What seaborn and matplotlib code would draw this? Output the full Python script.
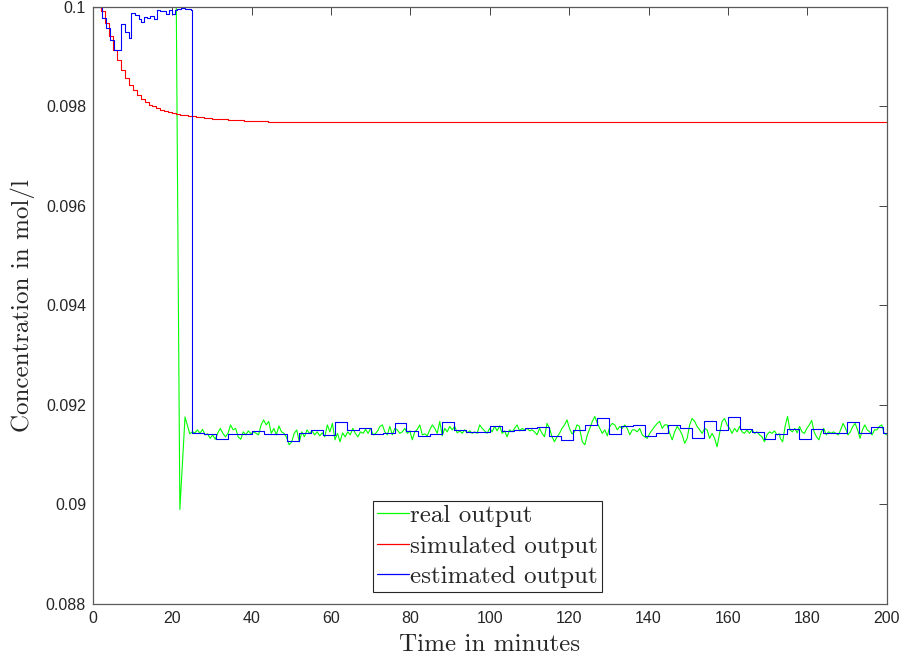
import numpy as np
import matplotlib
matplotlib.use("Agg")
import matplotlib.pyplot as plt
import seaborn as sns

# real output (green): transient, then noisy steady state read in four stretches
real_start_t = [0, 21.0, 21.9, 23.2]
real_start_v = [0.1, 0.1, 0.0899, 0.09176]
real_seg_spans = [(24.4, 71.9), (72.3, 122.6), (122.7, 173.0), (173.2, 200.0)]
real_seg_a = [0.09142, 0.09146, 0.09144, 0.09150, 0.09143, 0.09151, 0.09140, 0.09142, 0.09133, 0.09140,
              0.09131, 0.09144, 0.09153, 0.09143, 0.09136, 0.09143, 0.09160, 0.09150, 0.09153, 0.09136,
              0.09131, 0.09146, 0.09140, 0.09148, 0.09142, 0.09146, 0.09143, 0.09140, 0.09160, 0.09170,
              0.09160, 0.09167, 0.09143, 0.09153, 0.09140, 0.09158, 0.09146, 0.09143, 0.09135, 0.09120,
              0.09126, 0.09143, 0.09150, 0.09126, 0.09146, 0.09136, 0.09150, 0.09143, 0.09148, 0.09140,
              0.09146, 0.09138, 0.09144, 0.09136, 0.09160, 0.09146, 0.09163, 0.09130, 0.09143, 0.09126,
              0.09144, 0.09136, 0.09146, 0.09140, 0.09153, 0.09143, 0.09136, 0.09146, 0.09143, 0.09151,
              0.09143, 0.09153, 0.09140, 0.09143, 0.09150]
real_seg_b = [0.09157, 0.09160, 0.09146, 0.09140, 0.09157, 0.09140, 0.09153, 0.09150, 0.09143, 0.09146,
              0.09153, 0.09143, 0.09148, 0.09130, 0.09146, 0.09151, 0.09160, 0.09140, 0.09142, 0.09138,
              0.09150, 0.09160, 0.09153, 0.09143, 0.09167, 0.09138, 0.09153, 0.09146, 0.09157, 0.09150,
              0.09157, 0.09144, 0.09148, 0.09143, 0.09150, 0.09144, 0.09148, 0.09143, 0.09146, 0.09143,
              0.09160, 0.09153, 0.09148, 0.09143, 0.09153, 0.09146, 0.09157, 0.09148, 0.09158, 0.09143,
              0.09148, 0.09136, 0.09150, 0.09146, 0.09153, 0.09160, 0.09148, 0.09153, 0.09150, 0.09153,
              0.09148, 0.09150, 0.09146, 0.09140, 0.09153, 0.09143, 0.09136, 0.09163, 0.09153, 0.09136,
              0.09126, 0.09136, 0.09143, 0.09153, 0.09160, 0.09170, 0.09153, 0.09142, 0.09146, 0.09160,
              0.09157]
real_seg_c = [0.09150, 0.09126, 0.09120, 0.09140, 0.09153, 0.09167, 0.09177, 0.09163, 0.09153, 0.09143,
              0.09150, 0.09138, 0.09157, 0.09163, 0.09160, 0.09150, 0.09157, 0.09153, 0.09160, 0.09153,
              0.09140, 0.09150, 0.09150, 0.09146, 0.09153, 0.09140, 0.09136, 0.09133, 0.09143, 0.09150,
              0.09157, 0.09163, 0.09167, 0.09153, 0.09160, 0.09160, 0.09143, 0.09130, 0.09146, 0.09157,
              0.09150, 0.09140, 0.09123, 0.09133, 0.09160, 0.09173, 0.09167, 0.09157, 0.09150, 0.09143,
              0.09153, 0.09150, 0.09133, 0.09143, 0.09133, 0.09116, 0.09143, 0.09167, 0.09173, 0.09160,
              0.09153, 0.09143, 0.09153, 0.09146, 0.09157, 0.09146, 0.09143, 0.09150, 0.09143, 0.09150,
              0.09143, 0.09146, 0.09140, 0.09136, 0.09126, 0.09140, 0.09146, 0.09143, 0.09148, 0.09140,
              0.09142]
real_seg_d = [0.09133, 0.09126, 0.09157, 0.09177, 0.09150, 0.09146, 0.09153, 0.09144, 0.09157, 0.09146,
              0.09143, 0.09153, 0.09160, 0.09169, 0.09146, 0.09136, 0.09130, 0.09146, 0.09153, 0.09140,
              0.09146, 0.09143, 0.09146, 0.09143, 0.09140, 0.09150, 0.09163, 0.09153, 0.09140, 0.09146,
              0.09157, 0.09163, 0.09150, 0.09133, 0.09150, 0.09160, 0.09150, 0.09146, 0.09140, 0.09150,
              0.09150, 0.09157, 0.09160, 0.09143, 0.09140]

# simulated output (red), staircase
sim_t = [0, 1, 2, 3, 4, 5, 6, 7, 8, 9, 10, 11, 12, 13, 14, 15, 16, 17, 18, 19, 20,
         21, 22, 23, 24, 25, 26, 27, 28, 29, 30, 32, 34, 36, 38, 41, 44, 48, 200]
sim_v = [0.1, 0.1, 0.09992, 0.09968, 0.09942, 0.09914, 0.09893, 0.09874, 0.09858, 0.09844,
         0.09833, 0.09824, 0.09816, 0.09809, 0.09804, 0.09800, 0.09796, 0.09793, 0.09790, 0.09788,
         0.09786, 0.09784, 0.09783, 0.09782, 0.09781, 0.09780, 0.09779, 0.09778, 0.09777, 0.09776,
         0.09775, 0.09774, 0.09773, 0.09772, 0.09771, 0.09770, 0.09769, 0.09768, 0.09768]

# estimated output (blue), staircase
est_early_t = [0, 2.2, 3.2, 4.2, 5.3, 7.1, 8.2, 9.2, 9.6, 10.7, 11.6, 12.2, 12.8, 13.7, 14.5,
               15.4, 16.2, 17.0, 18.3, 19.1, 20.0, 20.6, 21.2, 22.1, 23.3, 24.6]
est_early_v = [0.1, 0.09977, 0.09957, 0.09934, 0.09914, 0.09966, 0.09949, 0.09937, 0.09987, 0.09984,
               0.09975, 0.09970, 0.09980, 0.09977, 0.09982, 0.09975, 0.09994, 0.09991, 0.09986, 0.09993,
               0.09986, 0.09994, 0.09996, 0.09998, 0.09996, 0.09994]
est_steady_v = [0.09144, 0.09141, 0.09131, 0.09142, 0.09142, 0.09148, 0.09142, 0.09142, 0.09128, 0.09144,
                0.09150, 0.09140, 0.09165, 0.09150, 0.09153, 0.09141, 0.09143, 0.09163, 0.09148, 0.09138,
                0.09142, 0.09165, 0.09150, 0.09146, 0.09146, 0.09158, 0.09148, 0.09150, 0.09153, 0.09155,
                0.09138, 0.09130, 0.09150, 0.09160, 0.09173, 0.09142, 0.09158, 0.09160, 0.09138, 0.09144,
                0.09160, 0.09153, 0.09133, 0.09167, 0.09150, 0.09175, 0.09151, 0.09146, 0.09131, 0.09141,
                0.09152, 0.09132, 0.09152, 0.09144, 0.09144, 0.09165, 0.09144, 0.09155, 0.09144]

x_ticks = [0, 20, 40, 60, 80, 100, 120, 140, 160, 180, 200]
y_ticks = [0.088, 0.09, 0.092, 0.094, 0.096, 0.098, 0.1]
y_tick_labels = ["0.088", "0.09", "0.092", "0.094", "0.096", "0.098", "0.1"]

# assemble series
real_t = list(real_start_t)
real_v = list(real_start_v)
for (t0, t1), seg in zip(real_seg_spans, [real_seg_a, real_seg_b, real_seg_c, real_seg_d]):
    real_t += list(np.linspace(t0, t1, len(seg)))
    real_v += seg

est_steady_t = list(np.arange(25, 200, 3))
est_t = est_early_t + est_steady_t + [200]
est_v = est_early_v + est_steady_v + [est_steady_v[-1]]

sns.set_style("white")
fig = plt.figure(figsize=(9.06, 6.66), dpi=100)
ax = fig.add_axes([0.1026, 0.0931, 0.876, 0.8964])

sns.lineplot(x=real_t, y=real_v, ax=ax, color="#00ff00", linewidth=0.8,
             estimator=None, sort=False, label="real output")
sns.lineplot(x=sim_t, y=sim_v, ax=ax, color="#ff0000", linewidth=0.8,
             estimator=None, sort=False, drawstyle="steps-post", label="simulated output")
sns.lineplot(x=est_t, y=est_v, ax=ax, color="#0000ff", linewidth=0.8,
             estimator=None, sort=False, drawstyle="steps-post", label="estimated output")

ax.set_xlim(0, 200)
ax.set_ylim(0.088, 0.1)
ax.set_xticks(x_ticks)
ax.set_xticklabels([str(v) for v in x_ticks])
ax.set_yticks(y_ticks)
ax.set_yticklabels(y_tick_labels)

for lab in ax.get_xticklabels() + ax.get_yticklabels():
    lab.set_family(["Liberation Sans", "DejaVu Sans"])
    lab.set_fontsize(11.5)
    lab.set_color("#262626")

ax.tick_params(direction="in", top=True, right=True, length=5.5, width=0.6,
               color="#262626", pad=5)
for sp in ax.spines.values():
    sp.set_color("#5a5a5a")
    sp.set_linewidth(0.9)

ax.set_xlabel("Time in minutes", fontfamily="cmr10", fontsize=18, labelpad=6)
ax.set_ylabel("Concentration in mol/l", fontfamily="cmr10", fontsize=18, labelpad=8)

leg = ax.legend(loc="lower left", bbox_to_anchor=(0.3528, 0.0201), borderaxespad=0,
                prop={"family": "cmr10", "size": 18}, handlelength=1.3, handletextpad=0.05,
                labelspacing=0.32, borderpad=0.15, fancybox=False, framealpha=1)
leg.get_frame().set_edgecolor("#262626")
leg.get_frame().set_linewidth(0.8)
for line in leg.get_lines():
    line.set_linewidth(0.9)

fig.savefig("out.png", dpi=100)
